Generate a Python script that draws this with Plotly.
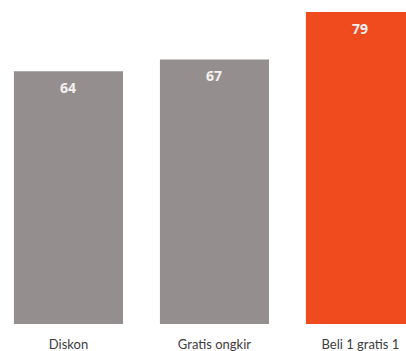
import plotly.graph_objects as go

categories = ["Diskon", "Gratis ongkir", "Beli 1 gratis 1"]
values = [64, 67, 79]
bar_colors = ["#948f8e", "#948f8e", "#f04a1f"]

fig = go.Figure()
fig.add_trace(go.Bar(
    x=categories, y=values,
    marker=dict(color=bar_colors, line=dict(width=0)),
    hoverinfo="skip",
))
for c, v in zip(categories, values):
    fig.add_annotation(
        x=c, y=v, text=f"<b>{v}</b>", showarrow=False,
        yanchor="middle", yshift=-16,
        font=dict(family="Open Sans", size=14, color="#f4f1f0"),
    )

fig.update_layout(
    width=406, height=351,
    margin=dict(l=0, r=0, t=0, b=27, autoexpand=False),
    paper_bgcolor="white", plot_bgcolor="white",
    bargap=0.253,
    showlegend=False,
    xaxis=dict(
        range=[-0.469, 2.312], automargin=False,
        showgrid=False, zeroline=False, showline=False,
        ticks="", ticklabelstandoff=11,
        tickfont=dict(family="Lato", size=13, color="#3c3c3c"),
    ),
    yaxis=dict(range=[0, 82.05], visible=False, automargin=False),
)
fig.write_html(
    "out.html",
    config={"displayModeBar": False},
    post_script="document.body.style.margin='0';document.body.style.overflow='hidden';",
)
